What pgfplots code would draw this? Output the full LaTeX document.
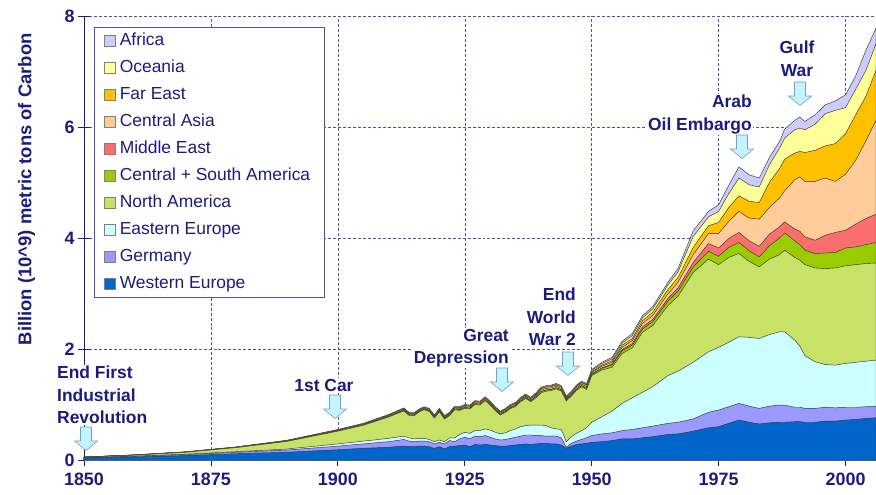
\documentclass[border=0pt]{standalone}
\usepackage{fontspec}
\setmainfont{Liberation Sans}
\usepackage{pgfplots}
\pgfplotsset{compat=1.18}
\usepackage{pgfplotstable}

\definecolor{txtnavy}{RGB}{28,28,128}
\definecolor{gridnavy}{RGB}{80,80,175}
\definecolor{cWE}{RGB}{0,102,204}
\definecolor{cGER}{RGB}{153,153,255}
\definecolor{cEE}{RGB}{204,255,255}
\definecolor{cNA}{RGB}{200,226,104}
\definecolor{cCSA}{RGB}{153,204,0}
\definecolor{cME}{RGB}{250,110,110}
\definecolor{cCA}{RGB}{255,204,153}
\definecolor{cFE}{RGB}{255,192,0}
\definecolor{cOC}{RGB}{255,255,153}
\definecolor{cAF}{RGB}{204,204,255}
\definecolor{arrfill}{RGB}{196,244,255}
\definecolor{arrdraw}{RGB}{110,160,210}

% cumulative tops of the stacked layers (billion t C)
\pgfplotstableread{
year we    ger   ee    na    csa   me    ca    fe    oc    af
1850 0.038 0.042 0.044 0.050 0.051 0.051 0.052 0.053 0.053 0.054
1860 0.055 0.066 0.070 0.087 0.088 0.088 0.090 0.091 0.092 0.093
1870 0.080 0.098 0.105 0.139 0.141 0.141 0.143 0.145 0.146 0.147
1880 0.112 0.140 0.150 0.224 0.226 0.227 0.230 0.233 0.234 0.236
1890 0.140 0.180 0.198 0.336 0.340 0.341 0.346 0.351 0.353 0.356
1900 0.185 0.250 0.290 0.520 0.526 0.527 0.534 0.541 0.544 0.550
1905 0.210 0.290 0.340 0.625 0.632 0.633 0.642 0.650 0.654 0.660
1910 0.230 0.330 0.390 0.775 0.784 0.785 0.796 0.807 0.812 0.820
1913 0.250 0.370 0.430 0.885 0.896 0.898 0.911 0.925 0.930 0.940
1914 0.240 0.340 0.400 0.805 0.816 0.818 0.831 0.845 0.850 0.860
1915 0.240 0.330 0.380 0.795 0.806 0.808 0.821 0.835 0.840 0.850
1916 0.250 0.340 0.390 0.865 0.876 0.878 0.891 0.905 0.910 0.920
1917 0.250 0.340 0.390 0.905 0.916 0.918 0.931 0.945 0.950 0.960
1918 0.240 0.330 0.370 0.875 0.886 0.888 0.901 0.915 0.920 0.930
1919 0.210 0.290 0.330 0.755 0.766 0.768 0.781 0.795 0.800 0.810
1920 0.240 0.320 0.360 0.870 0.882 0.884 0.899 0.914 0.920 0.930
1921 0.200 0.290 0.330 0.740 0.752 0.754 0.769 0.784 0.790 0.800
1922 0.240 0.350 0.400 0.800 0.812 0.814 0.829 0.844 0.850 0.860
1923 0.250 0.330 0.400 0.905 0.918 0.920 0.936 0.952 0.958 0.970
1924 0.260 0.380 0.460 0.895 0.908 0.910 0.926 0.942 0.948 0.960
1925 0.270 0.410 0.500 0.930 0.944 0.946 0.963 0.981 0.988 1.000
1926 0.240 0.380 0.480 0.920 0.934 0.936 0.953 0.971 0.978 0.990
1927 0.280 0.430 0.530 1.000 1.014 1.016 1.033 1.051 1.058 1.070
1928 0.270 0.420 0.530 0.990 1.004 1.006 1.023 1.041 1.048 1.060
1929 0.280 0.440 0.560 1.070 1.084 1.086 1.103 1.121 1.128 1.140
1930 0.270 0.410 0.540 0.990 1.004 1.006 1.023 1.041 1.048 1.060
1931 0.260 0.380 0.500 0.890 0.904 0.906 0.923 0.941 0.948 0.960
1932 0.250 0.360 0.470 0.810 0.824 0.826 0.843 0.861 0.868 0.880
1933 0.250 0.370 0.490 0.860 0.874 0.876 0.893 0.911 0.918 0.930
1934 0.260 0.390 0.530 0.925 0.940 0.942 0.961 0.980 0.987 1.000
1935 0.270 0.410 0.560 0.965 0.980 0.982 1.001 1.020 1.027 1.040
1936 0.280 0.430 0.600 1.050 1.066 1.068 1.088 1.108 1.116 1.130
1937 0.290 0.450 0.620 1.110 1.126 1.128 1.148 1.168 1.176 1.190
1938 0.280 0.450 0.630 1.050 1.066 1.068 1.088 1.108 1.116 1.130
1939 0.290 0.440 0.630 1.120 1.138 1.141 1.163 1.186 1.195 1.210
1940 0.300 0.440 0.630 1.210 1.230 1.233 1.258 1.283 1.293 1.310
1941 0.300 0.430 0.620 1.240 1.260 1.263 1.288 1.313 1.323 1.340
1942 0.290 0.430 0.580 1.250 1.270 1.273 1.298 1.323 1.333 1.350
1943 0.290 0.430 0.560 1.280 1.300 1.303 1.328 1.353 1.363 1.380
1944 0.270 0.400 0.550 1.245 1.264 1.267 1.291 1.315 1.324 1.340
1945 0.210 0.230 0.330 1.065 1.082 1.085 1.106 1.127 1.135 1.150
1946 0.250 0.300 0.420 1.150 1.168 1.171 1.193 1.216 1.225 1.240
1947 0.280 0.340 0.480 1.255 1.274 1.277 1.301 1.325 1.334 1.350
1948 0.290 0.370 0.530 1.320 1.340 1.343 1.368 1.393 1.403 1.420
1949 0.300 0.400 0.580 1.270 1.292 1.295 1.323 1.350 1.361 1.380
1950 0.32 0.44 0.68 1.52 1.54 1.55 1.57 1.59 1.61 1.63
1952 0.33 0.47 0.78 1.62 1.65 1.66 1.69 1.71 1.74 1.76
1954 0.35 0.49 0.88 1.67 1.71 1.73 1.76 1.79 1.82 1.85
1956 0.38 0.53 1.02 1.92 1.97 1.99 2.03 2.07 2.11 2.14
1958 0.38 0.55 1.12 2.02 2.07 2.10 2.15 2.19 2.24 2.28
1960 0.40 0.58 1.22 2.30 2.36 2.40 2.46 2.51 2.56 2.60
1962 0.42 0.61 1.32 2.42 2.49 2.53 2.60 2.66 2.72 2.76
1965 0.46 0.66 1.52 2.78 2.86 2.91 2.99 3.07 3.15 3.20
1967 0.47 0.68 1.60 2.95 3.04 3.10 3.20 3.29 3.39 3.45
1970 0.52 0.74 1.76 3.38 3.48 3.56 3.70 3.83 4.03 4.13
1973 0.58 0.86 1.95 3.62 3.76 3.90 4.08 4.22 4.38 4.48
1975 0.60 0.90 2.03 3.52 3.67 3.82 4.08 4.28 4.48 4.60
1977 0.66 0.96 2.12 3.65 3.83 3.99 4.30 4.55 4.80 4.95
1979 0.72 1.02 2.22 3.72 3.92 4.10 4.48 4.76 5.08 5.28
1981 0.68 0.97 2.21 3.58 3.77 3.95 4.36 4.66 4.96 5.14
1983 0.65 0.93 2.19 3.48 3.66 3.85 4.34 4.64 4.92 5.08
1985 0.67 0.97 2.26 3.62 3.86 4.07 4.55 5.00 5.32 5.45
1987 0.68 0.99 2.31 3.70 4.00 4.20 4.72 5.25 5.62 5.74
1988 0.68 0.99 2.31 3.78 4.09 4.29 4.85 5.42 5.80 5.96
1990 0.69 0.95 2.16 3.65 3.95 4.16 5.05 5.53 5.95 6.12
1991 0.69 0.95 2.05 3.60 3.88 4.12 5.10 5.56 5.98 6.18
1992 0.68 0.93 1.88 3.52 3.78 4.02 5.02 5.54 5.95 6.10
1994 0.68 0.93 1.77 3.46 3.72 3.96 5.02 5.58 6.05 6.22
1996 0.70 0.95 1.72 3.45 3.73 4.05 5.08 5.66 6.24 6.40
1998 0.70 0.94 1.71 3.46 3.74 4.10 5.02 5.70 6.30 6.47
2000 0.72 0.95 1.74 3.50 3.82 4.14 5.15 5.88 6.35 6.58
2002 0.73 0.95 1.76 3.52 3.84 4.25 5.40 6.22 6.68 6.92
2004 0.75 0.96 1.78 3.54 3.88 4.35 5.75 6.55 7.02 7.38
2006 0.76 0.96 1.80 3.55 3.92 4.43 6.12 7.02 7.50 7.78
}\emis

\tikzset{
  evt/.style={font=\bfseries\fontsize{17.5}{22.5}\selectfont, text=txtnavy,
    fill=white, inner sep=1bp},
  layer/.style={fill=#1, draw=black!80, line width=0.45pt},
}
% block arrow pointing down, top centre at #1 (drawn outside the axis)
\newcommand{\evtarrow}[1]{%
  \draw[fill=arrfill, draw=arrdraw, line width=0.6pt] (#1) ++(-5.5bp,0bp)
    -- ++(11bp,0bp) -- ++(0bp,-14bp) -- ++(6bp,0bp) -- ++(-11.5bp,-9.5bp)
    -- ++(-11.5bp,9.5bp) -- ++(6bp,0bp) -- cycle;}

\begin{document}
\begin{tikzpicture}
\begin{axis}[
  at={(84bp,35bp)}, anchor=south west,
  scale only axis, width=792bp, height=444bp,
  xmin=1850, xmax=2006, ymin=0, ymax=8,
  xtick={1850,1875,...,2000}, ytick={0,2,...,8},
  axis x line*=bottom, axis y line*=left,
  axis line style={-, txtnavy, line width=0.8pt},
  grid=major, grid style={gridnavy, densely dashed, line width=0.5pt},
  tick style={txtnavy, line width=0.8pt}, major tick length=12bp, tick align=center,
  /pgf/number format/assume math mode=true,
  ticklabel style={font=\bfseries\fontsize{18}{18}\selectfont, text=txtnavy},
  x tick label style={/pgf/number format/1000 sep={}, yshift=-3.5bp},
  ylabel={Billion (10\textasciicircum 9) metric tons of Carbon},
  ylabel style={at={(axis description cs:-0.0725,0.61)}, anchor=center,
    font=\bfseries\fontsize{18.5}{20}\selectfont, text=txtnavy},
  clip=false,
  legend style={at={(rel axis cs:0.0126,0.975)}, anchor=north west,
    draw=gridnavy, line width=0.6pt, fill=white,
    font=\fontsize{17.5}{17.5}\selectfont, text=txtnavy,
    inner xsep=10bp, inner ysep=6bp, row sep=12bp,
    nodes={inner xsep=4bp, inner ysep=0bp, text height=12bp, text depth=3bp}},
  legend cell align=left,
  legend image code/.code={\draw[#1, draw=black!50, line width=0.5pt]
    (0bp,-5.5bp) rectangle (11bp,5.5bp);},
]
\addplot[layer=cAF]  table[x=year,y=af]  {\emis} \closedcycle;
\addlegendentry{Africa}
\addplot[layer=cOC]  table[x=year,y=oc]  {\emis} \closedcycle;
\addlegendentry{Oceania}
\addplot[layer=cFE]  table[x=year,y=fe]  {\emis} \closedcycle;
\addlegendentry{Far East}
\addplot[layer=cCA]  table[x=year,y=ca]  {\emis} \closedcycle;
\addlegendentry{Central Asia}
\addplot[layer=cME]  table[x=year,y=me]  {\emis} \closedcycle;
\addlegendentry{Middle East}
\addplot[layer=cCSA] table[x=year,y=csa] {\emis} \closedcycle;
\addlegendentry{Central + South America}
\addplot[layer=cNA]  table[x=year,y=na]  {\emis} \closedcycle;
\addlegendentry{North America}
\addplot[layer=cEE]  table[x=year,y=ee]  {\emis} \closedcycle;
\addlegendentry{Eastern Europe}
\addplot[layer=cGER] table[x=year,y=ger] {\emis} \closedcycle;
\addlegendentry{Germany}
\addplot[layer=cWE]  table[x=year,y=we]  {\emis} \closedcycle;
\addlegendentry{Western Europe}

% event annotations
\node[evt, anchor=north west, align=left] at (axis cs:1844.48,1.712) {End First\\Industrial\\Revolution};
\node[evt, anchor=north] at (axis cs:1897.27,1.477) {1st Car};
\node[evt, anchor=north east, align=right] at (axis cs:1933.91,2.378) {Great\\Depression};
\node[evt, anchor=north east, align=right] at (axis cs:1947.11,3.117) {End\\World\\War 2};
\node[evt, anchor=north east, align=right] at (axis cs:1981.77,6.595) {Arab\\Oil Embargo};
\node[evt, anchor=north, align=center] at (axis cs:1990.44,7.568) {Gulf\\War};
\coordinate (aInd) at (axis cs:1850.39,0.595);
\coordinate (aCar) at (axis cs:1899.44,1.171);
\coordinate (aDep) at (axis cs:1932.33,1.658);
\coordinate (aWW)  at (axis cs:1945.33,1.946);
\coordinate (aOil) at (axis cs:1979.61,5.856);
\coordinate (aGulf) at (axis cs:1991.03,6.811);
\end{axis}
\evtarrow{aInd}
\evtarrow{aCar}
\evtarrow{aDep}
\evtarrow{aWW}
\evtarrow{aOil}
\evtarrow{aGulf}
\pgfresetboundingbox
\useasboundingbox (0,0) rectangle (876bp,495bp);
\end{tikzpicture}
\end{document}
